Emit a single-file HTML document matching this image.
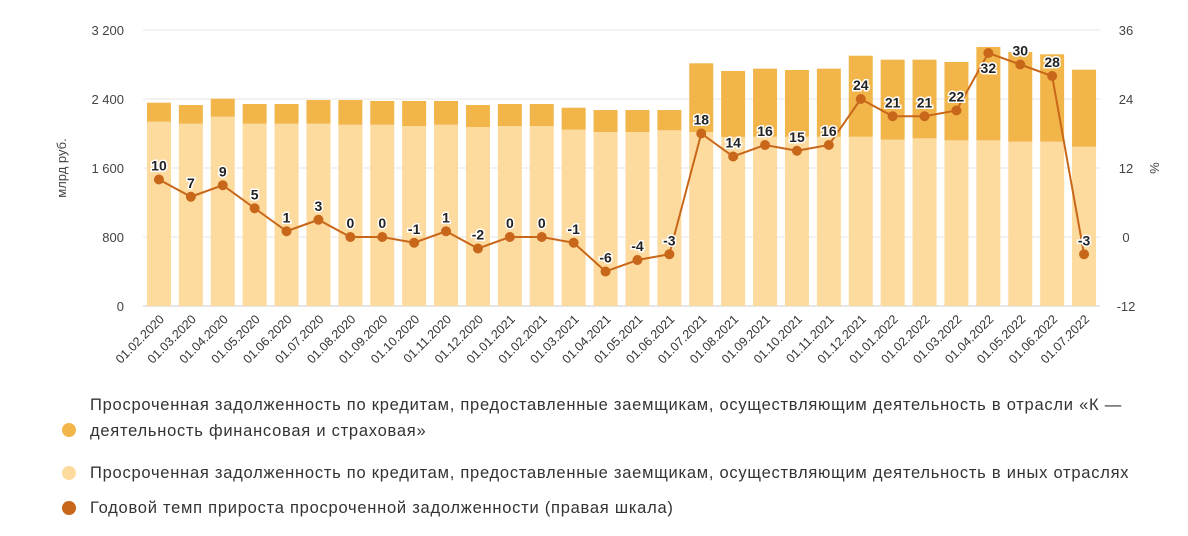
<!DOCTYPE html>
<html><head><meta charset="utf-8"><style>
body{margin:0;background:#fff;width:1188px;height:536px;overflow:hidden;font-family:"Liberation Sans",sans-serif}
.leg{position:absolute;left:90px;font-size:16.5px;letter-spacing:0.75px;color:#333;line-height:26px;white-space:nowrap}
.dot{position:absolute;left:62px;width:14px;height:14px;border-radius:50%}
</style></head><body>
<svg id="chart" width="1188" height="390" style="position:absolute;left:0;top:0"></svg>
<div class="dot" style="top:423px;background:#F2B54A"></div>
<div class="leg" style="top:392px">Просроченная задолженность по кредитам, предоставленные заемщикам, осуществляющим деятельность в отрасли «К —<br>деятельность финансовая и страховая»</div>
<div class="dot" style="top:466px;background:#FDDA9E"></div>
<div class="leg" style="top:460px">Просроченная задолженность по кредитам, предоставленные заемщикам, осуществляющим деятельность в иных отраслях</div>
<div class="dot" style="top:501px;background:#C8671A"></div>
<div class="leg" style="top:495px">Годовой темп прироста просроченной задолженности (правая шкала)</div>
<script>
const categories=["01.02.2020","01.03.2020","01.04.2020","01.05.2020","01.06.2020","01.07.2020","01.08.2020","01.09.2020","01.10.2020","01.11.2020","01.12.2020","01.01.2021","01.02.2021","01.03.2021","01.04.2021","01.05.2021","01.06.2021","01.07.2021","01.08.2021","01.09.2021","01.10.2021","01.11.2021","01.12.2021","01.01.2022","01.02.2022","01.03.2022","01.04.2022","01.05.2022","01.06.2022","01.07.2022"];
const otherValues=[2137,2114,2195,2114,2114,2114,2102,2102,2087,2102,2075,2087,2087,2044,2017,2017,2037,2017,1960,1962,1962,1962,1962,1929,1944,1921,1921,1905,1905,1847];
const totalValues=[2357,2330,2404,2342,2342,2388,2388,2377,2377,2377,2330,2342,2342,2299,2272,2272,2272,2814,2725,2752,2736,2752,2902,2856,2856,2829,3003,2945,2918,2740];
const growthValues=[10,7,9,5,1,3,0,0,-1,1,-2,0,0,-1,-6,-4,-3,18,14,16,15,16,24,21,21,22,32,30,28,-3];
const leftTicks=[0,800,1600,2400,3200];
const leftTickLabels=["0","800","1 600","2 400","3 200"];
const rightTicks=[-12,0,12,24,36];

const svg=document.getElementById('chart');
const NS='http://www.w3.org/2000/svg';
const X0=143,X1=1100,Y0=306,Y1=30;
const yL=v=>Y0-(v/3200)*(Y0-Y1);
const yR=v=>Y0-((v+12)/48)*(Y0-Y1);
const step=(X1-X0)/categories.length;
const xC=i=>X0+step*(i+0.5);
const bw=24;
function mk(t,a){const e=document.createElementNS(NS,t);for(const k in a)e.setAttribute(k,a[k]);svg.appendChild(e);return e;}
leftTicks.forEach((v,i)=>{
 const g=mk('line',{x1:X0,x2:X1,y1:yL(v),y2:yL(v),stroke:v===0?'#ccc':'#e6e6e6','stroke-width':1});
 
 
 const t=mk('text',{x:124,y:yL(v)+5,'text-anchor':'end','font-size':13,fill:'#444'});t.textContent=leftTickLabels[i];
 
 
});
rightTicks.forEach(v=>{
 const t=mk('text',{x:1126,y:yR(v)+5,'text-anchor':'middle','font-size':13,fill:'#444'});t.textContent=v;
 
 
});
let t=mk('text',{x:0,y:0,'font-size':13,fill:'#444','text-anchor':'middle',transform:'translate(66,168) rotate(-90)'});t.textContent='млрд руб.';


t=mk('text',{x:0,y:0,'font-size':13,fill:'#444','text-anchor':'middle',transform:'translate(1150,168) rotate(90)'});t.textContent='%';


categories.forEach((c,i)=>{
 const x=xC(i);
 const r1=mk('rect',{x:x-bw/2,y:yL(otherValues[i]),width:bw,height:Y0-yL(otherValues[i]),fill:'#FDDA9E'});
 
 
 const r2=mk('rect',{x:x-bw/2,y:yL(totalValues[i]),width:bw,height:yL(otherValues[i])-yL(totalValues[i]),fill:'#F2B54A'});
 
 
 const l=mk('text',{x:0,y:0,'font-size':12.5,fill:'#333','text-anchor':'end',transform:`translate(${x+6},${Y0+14}) rotate(-45)`});l.textContent=c;
 
 
});
const p=mk('polyline',{points:growthValues.map((v,i)=>xC(i)+','+yR(v)).join(' '),fill:'none',stroke:'#C8671A','stroke-width':2});


growthValues.forEach((v,i)=>{
 const c=mk('circle',{cx:xC(i),cy:yR(v),r:5,fill:'#C8671A'});
 
 
 const below=(i===26);
 const l=mk('text',{x:xC(i),y:below?yR(v)+20:yR(v)-9,'text-anchor':'middle','font-size':14,'font-weight':'bold',fill:'#222',stroke:'#fff','stroke-width':3,'paint-order':'stroke'});
 l.textContent=v;
 
 
});
</script>
</body></html>
